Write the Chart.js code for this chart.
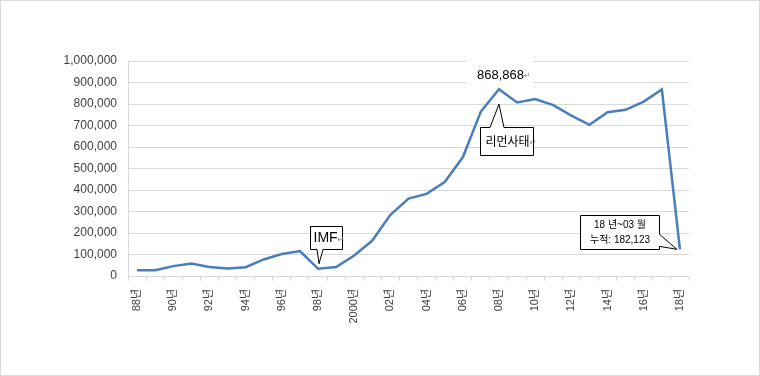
<!DOCTYPE html>
<html>
<head>
<meta charset="utf-8">
<script src="https://cdn.jsdelivr.net/npm/chart.js@4/dist/chart.umd.min.js"></script>
<style>
  body { margin: 0; background: #fff; }
  #wrap { width: 760px; height: 376px; }
</style>
</head>
<body>
<div id="wrap"><canvas id="linea" width="760" height="376"></canvas></div>
<script>
// 연도 (88년 ~ 18년)
var years = ['88년','89년','90년','91년','92년','93년','94년','95년','96년','97년',
             '98년','99년','2000년','01년','02년','03년','04년','05년','06년','07년',
             '08년','09년','10년','11년','12년','13년','14년','15년','16년','17년','18년'];
// 값
var totals = [27000, 27000, 46000, 58000, 42000, 35000, 41000, 77000, 102000, 116000,
              34000, 42000, 95000, 165000, 285000, 360000, 382000, 437000, 552000, 765000,
              868868, 807000, 823000, 795000, 746000, 703000, 762000, 773000, 811000, 868000,
              124000];
var yMax = 1000000;
var yStep = 100000;

var fontLat = '"Liberation Sans", "Noto Sans CJK KR", sans-serif';
var fontKr = '"Noto Sans CJK KR", "Liberation Sans", sans-serif';

function shape(ctx, pts) {
    ctx.beginPath();
    ctx.moveTo(pts[0][0], pts[0][1]);
    for (var i = 1; i < pts.length; i++) ctx.lineTo(pts[i][0], pts[i][1]);
    ctx.closePath();
    ctx.fillStyle = '#ffffff';
    ctx.fill();
    ctx.strokeStyle = '#000000';
    ctx.lineWidth = 1;
    ctx.stroke();
}

function textRet(ctx, txt, x, y, font) {
    // text + small return mark
    ctx.font = font;
    ctx.fillStyle = '#000000';
    ctx.textAlign = 'left';
    ctx.textBaseline = 'middle';
    ctx.fillText(txt, x, y);
    var w = ctx.measureText(txt).width;
    ctx.font = '8px "DejaVu Sans"';
    ctx.fillStyle = '#808080';
    ctx.fillText('\u21B5', x + w, y + 1);
}

/* 말풍선 Inicio */
var callouts = {
    id: 'callouts',
    beforeDraw: function(chart) {
        var ctx = chart.ctx;
        ctx.save();
        ctx.fillStyle = '#fff';
        ctx.fillRect(0, 0, 760, 376);
        ctx.strokeStyle = '#d9d9d9';
        ctx.strokeRect(0.5, 0.5, 759, 375);
        ctx.restore();
    },
    afterDatasetsDraw: function(chart) {
        var ctx = chart.ctx;
        var pts = chart.getDatasetMeta(0).data;
        ctx.save();

        // IMF
        var p = pts[10];
        var x = Math.round(p.x) - 7.5, y = Math.round(p.y) - 42.5, w = 32, h = 23;
        shape(ctx, [[x, y], [x + w, y], [x + w, y + h], [p.x + 5, y + h], [p.x + 1, p.y - 5],
                    [p.x - 1, y + h], [x, y + h]]);
        textRet(ctx, 'IMF', x + 3, y + 12, '14px ' + fontLat);

        // 868,868 라벨
        p = pts[20];
        ctx.fillStyle = '#ffffff';
        ctx.fillRect(p.x - 33, p.y - 31, 67, 26);
        textRet(ctx, '868,868', p.x - 22, p.y - 14, '13px ' + fontLat);

        // 리먼사태
        x = Math.round(p.x) - 18.5; y = Math.round(p.y) + 38.5; w = 53; h = 28;
        shape(ctx, [[x, y], [p.x - 9, y], [p.x, p.y + 15], [p.x + 5, y], [x + w, y],
                    [x + w, y + h], [x, y + h]]);
        textRet(ctx, '리먼사태', x + 5, y + 14, '12px ' + fontKr);

        // 18년 누적
        p = pts[30];
        x = Math.round(p.x) - 99.5; y = Math.round(p.y) - 33.5; w = 79; h = 34;
        shape(ctx, [[x, y], [x + w, y], [x + w, p.y - 15], [p.x - 3, p.y], [x + w, p.y - 3],
                    [x + w, y + h], [x, y + h]]);
        ctx.font = '10px ' + fontLat;
        ctx.fillStyle = '#000';
        ctx.textAlign = 'center';
        ctx.textBaseline = 'middle';
        ctx.fillText('18 년~03 월', x + w / 2, y + 10);
        ctx.fillText('누적: 182,123', x + w / 2, y + 25);

        ctx.restore();
    }
};
/* 말풍선 Fin */

var ctxl = document.getElementById('linea');
var grafica = new Chart(ctxl, {
    type: 'line',
    data: {
        labels: years,
        datasets: [{
            label: '누적',
            data: totals,
            borderColor: '#4a7ebb',
            borderWidth: 2.5,
            pointRadius: 0,
            tension: 0,
            fill: false
        }]
    },
    options: {
        responsive: false,
        animation: false,
        devicePixelRatio: 1,
        layout: { padding: { top: 61, right: 71, bottom: 0, left: 0 } },
        plugins: { legend: { display: false }, tooltip: { enabled: false } },
        scales: {
            x: {
                offset: true,
                afterFit: function(s) { s.height = 100; },
                grid: { offset: true, drawOnChartArea: false, drawTicks: true, tickLength: 5, color: '#d9d9d9' },
                border: { color: '#d9d9d9' },
                ticks: {
                    autoSkip: false,
                    minRotation: 90,
                    maxRotation: 90,
                    padding: 8,
                    color: '#404040',
                    font: { family: fontLat, size: 11 },
                    callback: function(v, i) { return i % 2 === 0 ? years[i] : ''; }
                }
            },
            y: {
                min: 0,
                max: yMax,
                afterFit: function(s) { s.width = 128; },
                grid: { color: '#d9d9d9', drawTicks: false },
                border: { color: '#d9d9d9' },
                ticks: {
                    stepSize: yStep,
                    padding: 11,
                    color: '#404040',
                    font: { family: fontLat, size: 12 },
                    callback: function(v) { return v.toLocaleString('en-US'); }
                }
            }
        }
    },
    plugins: [callouts]
});
</script>
</body>
</html>
